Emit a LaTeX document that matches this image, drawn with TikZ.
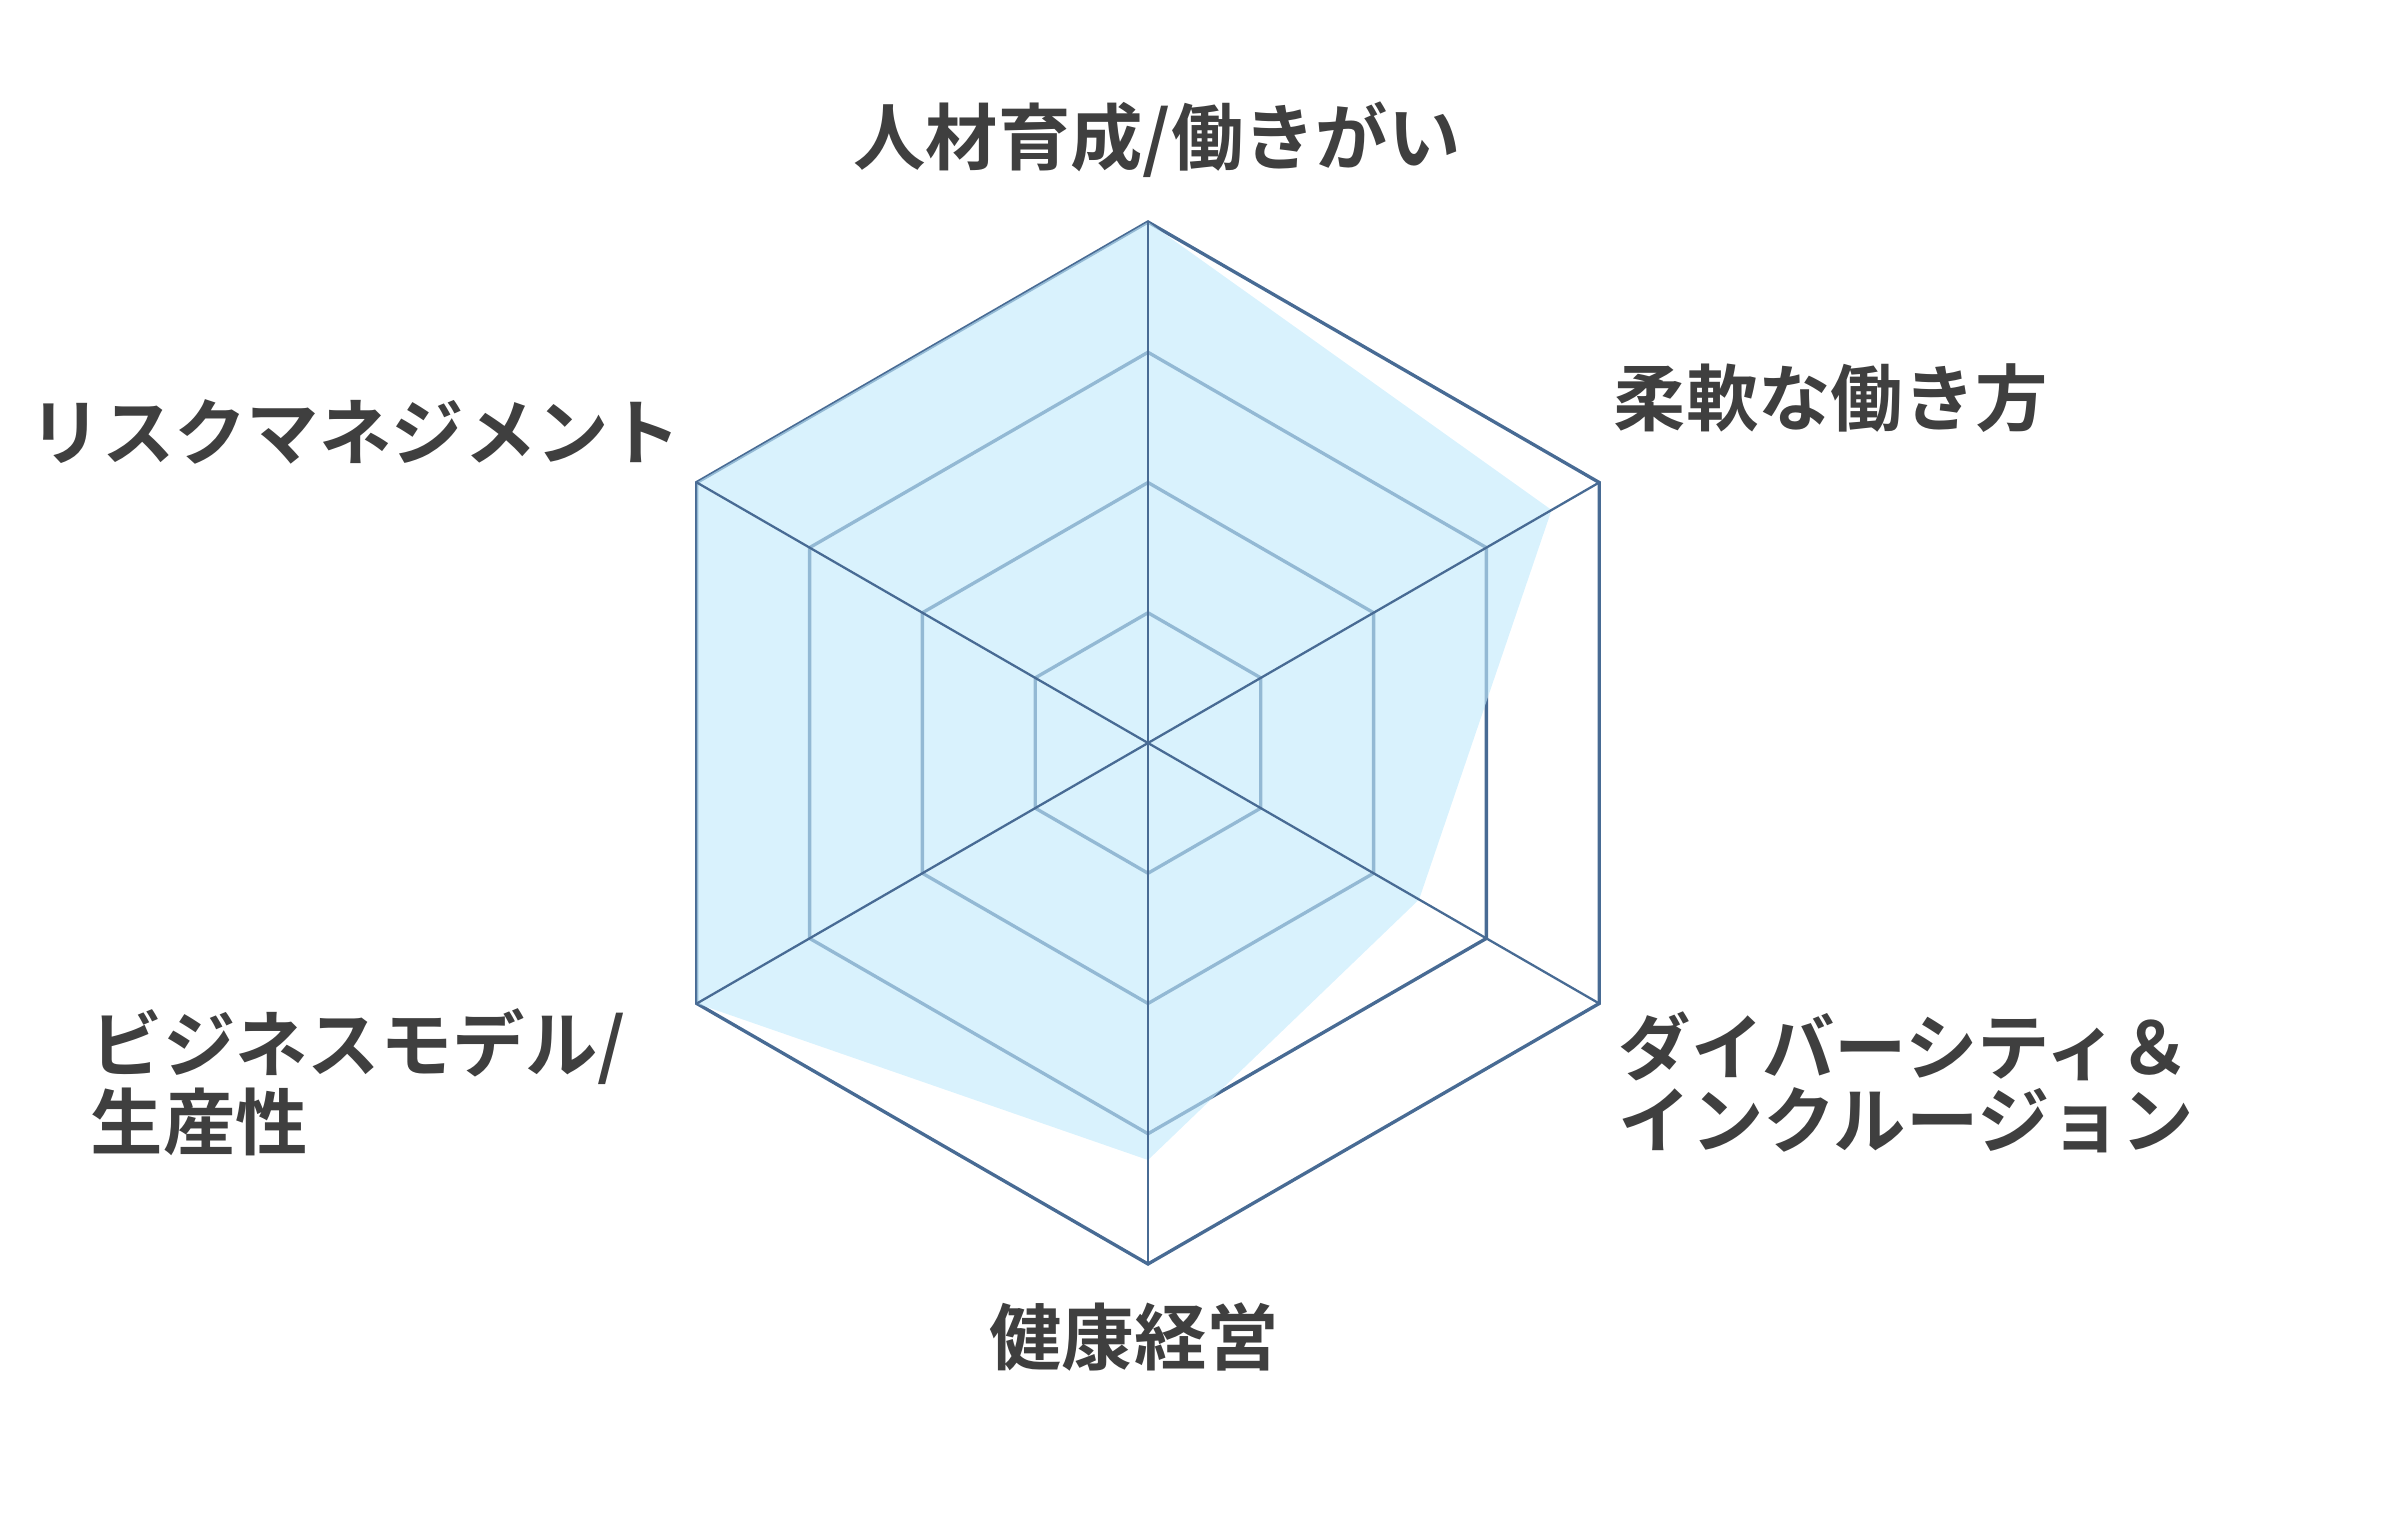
\documentclass[tikz,border=0pt]{standalone}
\usepackage{fontspec}
\newfontfamily\jpfont{Noto Sans CJK JP}[UprightFont=* Bold]
\definecolor{gridline}{RGB}{72,107,148}
\definecolor{areafill}{RGB}{194,234,252}
\definecolor{labeltext}{RGB}{63,63,63}
\begin{document}
\begin{tikzpicture}[x=0.1mm, y=0.1mm,
ring/.style={draw=gridline, line width=0.95pt, line join=miter},
spoke/.style={draw=gridline, line width=0.65pt},
area/.style={fill=areafill, fill opacity=0.62},
lbl/.style={text=labeltext, inner sep=0pt, align=left,
  font=\jpfont\fontsize{20.6pt}{20.8pt}\selectfont}]
\useasboundingbox (0,0) rectangle (2381,1536);
\coordinate (c) at (1148,793);
% rings
\foreach \r in {130.25,260.5,390.75,521}
  \draw[ring] ([shift={(90:\r)}]c)
    \foreach \a in {30,-30,-90,-150,150} { -- ([shift={(\a:\r)}]c) } -- cycle;
% data
\foreach \a/\r [count=\i] in {90/521,30/466,-30/313,-90/417,-150/521,150/521}
  \coordinate (d\i) at ([shift={(\a:\r)}]c);
\fill[area] (d1) -- (d2) -- (d3) -- (d4) -- (d5) -- (d6) -- cycle;
% spokes
\foreach \a [count=\i] in {90,30,-30,-90,-150,150} {
  \coordinate (v\i) at ([shift={(\a:521)}]c);
  \draw[spoke] (c) -- (v\i);
}
% labels
\node[lbl] (jinzai) at (1157,1396) {人材育成/働きがい};
\node[lbl, anchor=west] (juunan) at (1613,1138) {柔軟な働き方};
\node[lbl, anchor=west] (diversity) at (1618,454) {ダイバーシティ＆\\インクルージョン};
\node[lbl] (kenkou) at (1134,199) {健康経営};
\node[lbl, anchor=west] (business) at (90,454) {ビジネスモデル/\\生産性};
\node[lbl, anchor=east] (risk) at (682,1104) {リスクマネジメント};
\end{tikzpicture}
\end{document}
